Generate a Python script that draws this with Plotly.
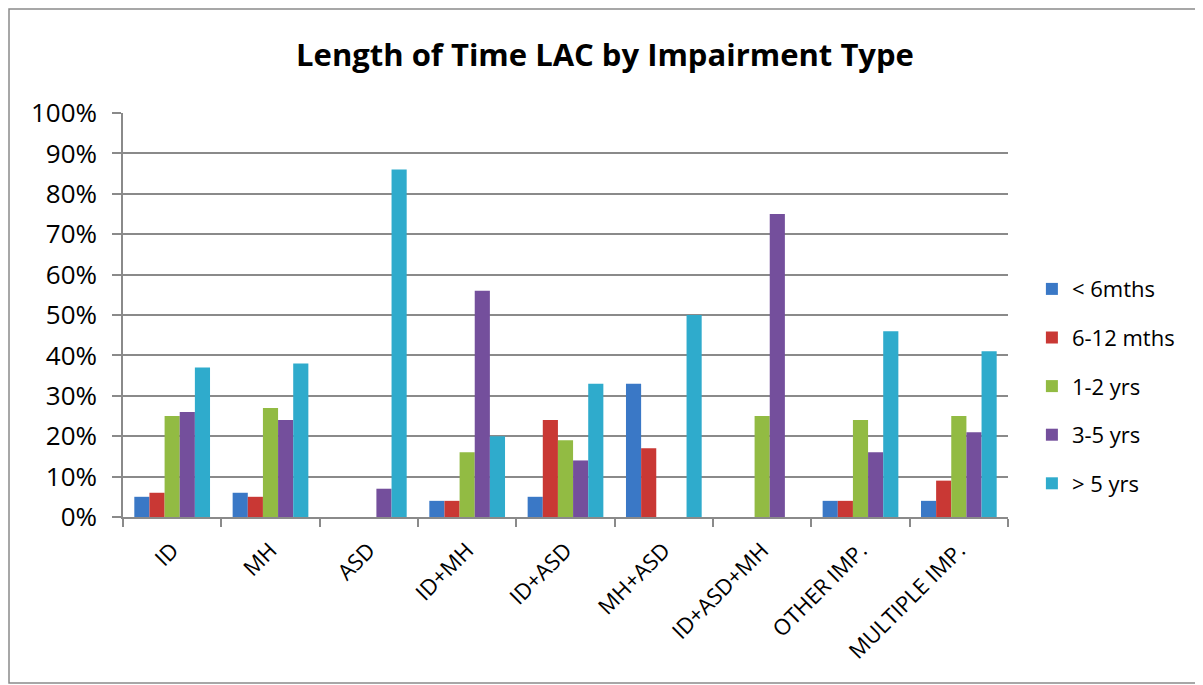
import plotly.graph_objects as go

categories = ["ID", "MH", "ASD", "ID+MH", "ID+ASD", "MH+ASD", "ID+ASD+MH", "OTHER IMP.", "MULTIPLE IMP."]
series_names = ["< 6mths", "6-12 mths", "1-2 yrs", "3-5 yrs", "> 5 yrs"]
lt_6mths = [5, 6, 0, 4, 5, 33, 0, 4, 4]
m6_12 = [6, 5, 0, 4, 24, 17, 0, 4, 9]
y1_2 = [25, 27, 0, 16, 19, 0, 25, 24, 25]
y3_5 = [26, 24, 7, 56, 14, 0, 75, 16, 21]
gt_5 = [37, 38, 86, 20, 33, 50, 0, 46, 41]
tick_vals = [0, 10, 20, 30, 40, 50, 60, 70, 80, 90, 100]
tick_text = [f"{v}%" for v in tick_vals]

colors = ["#3a78c6", "#c93834", "#92bb43", "#744f9c", "#2fabcc"]
series = [lt_6mths, m6_12, y1_2, y3_5, gt_5]

W, H = 1203, 685
L, R, T, B = 115, 203, 105, 176
PW, PH = W - L - R, H - T - B

def px(xf):
    return (xf - L) / PW

def py(yf):
    return (H - B - yf) / PH

fig = go.Figure()
for i, (name, vals) in enumerate(zip(series_names, series)):
    fig.add_trace(go.Bar(
        x=categories, y=vals, name=name,
        marker=dict(color=colors[i], line=dict(width=0)),
        legendgroup=f"g{i}",
    ))

fig.update_layout(
    width=W, height=H,
    paper_bgcolor="white", plot_bgcolor="white",
    margin=dict(l=L, r=R, t=T, b=B, autoexpand=False),
    barmode="group", bargap=0.23, bargroupgap=0,
    font=dict(family="Open Sans, Liberation Sans, sans-serif", color="black"),
    title=dict(text="<b>Length of Time LAC by Impairment Type</b>",
               x=597 / W, xanchor="center", y=1 - 47 / H, yanchor="middle",
               font=dict(size=31, family="Open Sans, sans-serif", color="black")),
    legend=dict(x=1.027, xanchor="left", y=0.324, yanchor="middle",
                font=dict(size=22), tracegroupgap=17, itemwidth=30,
                bgcolor="rgba(0,0,0,0)"),
    showlegend=True,
)
fig.update_yaxes(range=[0, 100], tickvals=tick_vals, ticktext=tick_text,
                 showgrid=True, gridcolor="#8a8a8a", gridwidth=1.5,
                 showline=True, linecolor="#8a8a8a", linewidth=1.5,
                 ticks="outside", ticklen=9, tickcolor="#8a8a8a", tickwidth=1.5,
                 ticklabelstandoff=10,
                 tickfont=dict(size=26), zeroline=False, fixedrange=True)
fig.update_xaxes(showline=True, linecolor="#8a8a8a", linewidth=1.5,
                 ticks="outside", tickson="boundaries", ticklen=8,
                 tickcolor="#8a8a8a", tickwidth=1.5, ticklabelstandoff=10,
                 tickangle=-45, tickfont=dict(size=22))

fig.add_shape(type="rect", xref="paper", yref="paper",
              x0=px(1), x1=px(1192),
              y0=py(675), y1=py(1),
              line=dict(color="#8a8a8a", width=1.5), fillcolor="rgba(0,0,0,0)",
              layer="below")

fig.write_html("out.html")
